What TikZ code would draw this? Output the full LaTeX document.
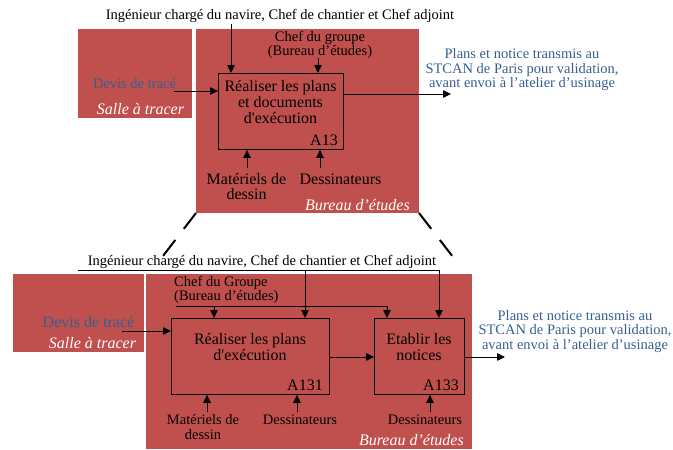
\documentclass[tikz,border=0pt]{standalone}
\usepackage{fontspec}
\setmainfont{Liberation Serif}
\usetikzlibrary{arrows.meta}
\definecolor{bred}{HTML}{C0504D}
\definecolor{tblue}{RGB}{54,95,145}
\tikzset{
 zone/.style={fill=bred, draw=none, inner sep=0, outer sep=0, anchor=north west},
 actbox/.style={draw=black, line width=0.9pt, inner sep=0, anchor=north west},
 sm/.style={font=\fontsize{14.5}{14.5}\selectfont, inner sep=0, align=center},
 lg/.style={font=\fontsize{16}{16}\selectfont, inner sep=0, align=center},
 zonelbl/.style={font=\fontsize{16}{16}\selectfont\itshape, text=white, inner sep=0},
 conn/.style={line width=0.8pt, -{Triangle[length=8pt,width=7.5pt]}},
 plainline/.style={line width=0.8pt},
 zoomline/.style={line width=2pt, dash pattern=on 20pt off 14pt},
}
\begin{document}
\begin{tikzpicture}[x=1pt,y=-1pt]
\useasboundingbox (0,0) rectangle (673,450);
% ---------- top diagram ----------
\node[zone,minimum width=114pt,minimum height=89pt] (sat1) at (78,29) {};
\node[zone,minimum width=223pt,minimum height=184pt] (bet1) at (196,29) {};
\node[actbox,minimum width=125pt,minimum height=76pt] (a13) at (218,73) {};
\node[lg] (a13t) at (280.5,102) {Réaliser les plans\\et documents\\d\textquotesingle exécution};
\node[lg,anchor=base east] (a13id) at (338,145.5) {A13};
\node[sm] (eng1) at (280,16) {Ingénieur chargé du navire, Chef de chantier et Chef adjoint};
\coordinate (e1) at (231,24);
\draw[conn] (e1) -- (e1 |- a13.north);
\node[sm] (chef1) at (320,45) {Chef du groupe\\(Bureau d’études)};
\coordinate (ch1) at (318,58);
\draw[conn] (ch1) -- (ch1 |- a13.north);
\node[sm,text=tblue] (devis1) at (134.5,84) {Devis de tracé};
\coordinate (d1) at (174,91);
\draw[conn] (d1) -- (d1 -| a13.west);
\node[zonelbl] (sal1) at (140.5,109) {Salle à tracer};
\coordinate (o1) at (451,94);
\draw[conn] (o1 -| a13.east) -- (o1);
\node[sm,text=tblue] (out1) at (522,70) {Plans et notice transmis au\\STCAN de Paris pour validation,\\avant envoi à l’atelier d’usinage};
\coordinate (m1) at (247,168);
\coordinate (ds1) at (320,168);
\draw[conn] (m1) -- (m1 |- a13.south);
\draw[conn] (ds1) -- (ds1 |- a13.south);
\node[lg,font=\fontsize{16}{15}\selectfont] (mat1) at (246.5,186.5) {Matériels de\\dessin};
\node[lg] (des1) at (340.5,179) {Dessinateurs};
\node[zonelbl,anchor=east] (bl1) at (410,205) {Bureau d’études};
% ---------- zoom lines ----------
\coordinate (zl) at (163,256);
\coordinate (zr) at (453,257);
\draw[zoomline] (bet1.south west) -- (zl);
\draw[zoomline] (bet1.south east) -- (zr);
% ---------- bottom diagram ----------
\node[zone,minimum width=131pt,minimum height=78pt] (sat2) at (13,274) {};
\node[zone,minimum width=326pt,minimum height=175pt] (bet2) at (146,274) {};
\node[actbox,minimum width=158pt,minimum height=76pt] (a131) at (171,318) {};
\node[actbox,minimum width=90pt,minimum height=76pt] (a133) at (374,318) {};
\node[lg] (a131t) at (250,347) {Réaliser les plans\\d\textquotesingle exécution};
\node[lg] (a133t) at (419,347) {Etablir les\\notices};
\node[lg,anchor=base east] (a131id) at (323,390.3) {A131};
\node[lg,anchor=base east] (a133id) at (459,390.3) {A133};
\node[sm] (eng2) at (262,262) {Ingénieur chargé du navire, Chef de chantier et Chef adjoint};
\coordinate (l0) at (78,270);
\coordinate (l1) at (439,270);
\coordinate (l2) at (305,270);
\draw[conn] (l0) -| (l1 |- a133.north);
\draw[conn] (l2) -- (l2 |- a131.north);
\node[sm,align=left,anchor=west] (chef2) at (174,290) {Chef du Groupe\\(Bureau d’études)};
\coordinate (c0) at (176,306);
\coordinate (c1) at (214,306);
\coordinate (c2) at (387,306);
\draw[conn] (c0) -| (c2 |- a133.north);
\draw[conn] (c1) -- (c1 |- a131.north);
\node[lg,text=tblue] (devis2) at (88.5,322) {Devis de tracé};
\coordinate (d2) at (122,331);
\draw[conn] (d2) -- (d2 -| a131.west);
\node[zonelbl] (sal2) at (92.5,343) {Salle à tracer};
\coordinate (mid) at (350,357);
\draw[conn] (mid -| a131.east) -- (mid -| a133.west);
\coordinate (o2) at (505,357);
\draw[conn] (o2 -| a133.east) -- (o2);
\node[sm,text=tblue] (out2) at (575,331.5) {Plans et notice transmis au\\STCAN de Paris pour validation,\\avant envoi à l’atelier d’usinage};
\coordinate (m2) at (207,412);
\coordinate (ds2) at (297,412);
\coordinate (ds3) at (430,412);
\draw[conn] (m2) -- (m2 |- a131.south);
\draw[conn] (ds2) -- (ds2 |- a131.south);
\draw[conn] (ds3) -- (ds3 |- a133.south);
\node[sm,font=\fontsize{14.5}{15}\selectfont] (mat2) at (203,427.5) {Matériels de\\dessin};
\node[sm] (des2) at (300,420) {Dessinateurs};
\node[sm] (des3) at (425,420) {Dessinateurs};
\node[zonelbl,anchor=east] (bl2) at (464,440) {Bureau d’études};
\end{tikzpicture}
\end{document}
